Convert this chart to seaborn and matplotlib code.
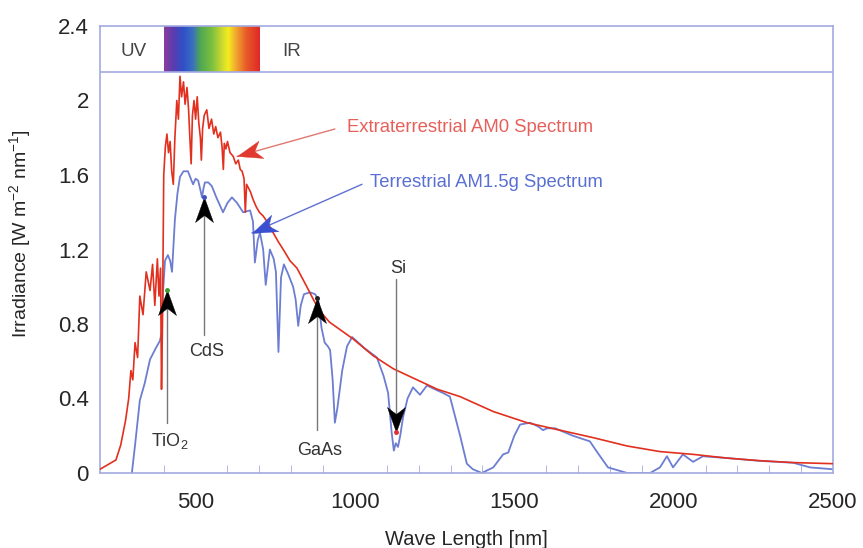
import numpy as np
import pandas as pd
import matplotlib
matplotlib.use("Agg")
import matplotlib.pyplot as plt
import seaborn as sns
from matplotlib.colors import LinearSegmentedColormap

# ---------------- data ----------------
am0_wl = [200, 240, 250, 265, 280, 290, 297, 303, 310, 318, 325, 335, 345, 357, 365, 372,
          380, 385, 390, 393, 396, 400, 405, 410, 415, 420, 425, 430, 435, 441, 446, 451,
          456, 462, 467, 473, 478, 482, 486, 490, 495, 500, 505, 510, 515, 518, 522, 527,
          535, 542, 550, 557, 563, 570, 578, 583, 587, 590, 595, 600, 608, 618, 626, 634,
          640, 646, 652, 656, 660, 666, 672, 680, 690, 700, 712, 724, 740, 760, 775, 796,
          818, 849, 870, 890, 920, 953, 994, 1057, 1120, 1195, 1258, 1330, 1434, 1540,
          1643, 1747, 1854, 1957, 2061, 2168, 2271, 2375, 2500]
am0_val = [0.02, 0.06, 0.07, 0.15, 0.28, 0.40, 0.55, 0.50, 0.70, 0.62, 0.95, 0.85, 1.08, 0.98,
           1.12, 0.90, 1.15, 0.95, 1.10, 0.45, 0.80, 1.60, 1.75, 1.82, 1.72, 1.78, 1.62, 1.55,
           1.80, 2.00, 1.90, 2.13, 2.02, 2.10, 1.98, 2.07, 1.95, 1.80, 1.66, 1.92, 2.00, 1.90,
           2.02, 1.88, 1.80, 1.68, 1.85, 1.92, 1.95, 1.85, 1.90, 1.82, 1.86, 1.80, 1.83, 1.75,
           1.63, 1.77, 1.74, 1.78, 1.72, 1.70, 1.66, 1.68, 1.63, 1.62, 1.58, 1.40, 1.55, 1.53,
           1.51, 1.47, 1.43, 1.40, 1.38, 1.35, 1.30, 1.24, 1.20, 1.14, 1.10, 1.00, 0.93, 0.87,
           0.81, 0.77, 0.72, 0.63, 0.56, 0.50, 0.45, 0.41, 0.33, 0.27, 0.23, 0.19, 0.145,
           0.115, 0.10, 0.08, 0.066, 0.056, 0.05]

am15_wl = [300, 310, 325, 340, 357, 375, 388, 393, 398, 404, 413, 420, 426, 435, 443, 451,
           462, 476, 485, 492, 500, 508, 515, 520, 525, 529, 540, 551, 565, 586, 600, 614,
           630, 649, 671, 680, 686, 695, 702, 712, 720, 733, 745, 752, 760, 768, 777, 790,
           806, 814, 822, 830, 840, 859, 875, 885, 895, 905, 915, 922, 930, 937, 945, 960,
           975, 991, 1030, 1069, 1090, 1104, 1115, 1122, 1128, 1135, 1142, 1151, 1165, 1182,
           1204, 1226, 1250, 1276, 1298, 1330, 1351, 1370, 1398, 1434, 1465, 1481, 1500,
           1518, 1549, 1575, 1590, 1603, 1628, 1684, 1737, 1765, 1794, 1854, 1926, 1957,
           1979, 1998, 2029, 2061, 2092, 2168, 2271, 2375, 2428, 2500]
am15_val = [0.0, 0.15, 0.39, 0.48, 0.61, 0.67, 0.71, 0.75, 0.98, 1.14, 1.17, 1.14, 1.08, 1.36,
            1.50, 1.59, 1.62, 1.62, 1.58, 1.55, 1.58, 1.57, 1.52, 1.48, 1.53, 1.56, 1.56, 1.54,
            1.48, 1.40, 1.45, 1.48, 1.45, 1.40, 1.41, 1.35, 1.13, 1.25, 1.29, 1.20, 1.01, 1.20,
            1.15, 1.08, 0.65, 1.05, 1.12, 1.07, 1.00, 0.93, 0.79, 0.90, 0.96, 0.97, 0.96, 0.93,
            0.78, 0.70, 0.68, 0.66, 0.50, 0.27, 0.35, 0.55, 0.68, 0.73, 0.67, 0.62, 0.52, 0.43,
            0.22, 0.12, 0.16, 0.14, 0.20, 0.30, 0.40, 0.46, 0.42, 0.47, 0.45, 0.43, 0.41, 0.20,
            0.05, 0.02, 0.0, 0.03, 0.10, 0.11, 0.20, 0.26, 0.27, 0.25, 0.23, 0.24, 0.24, 0.20,
            0.17, 0.10, 0.03, 0.0, 0.0, 0.03, 0.09, 0.03, 0.10, 0.06, 0.09, 0.08, 0.065, 0.055,
            0.03, 0.02]

# semiconductor band-gap markers
mat_names = ["TiO$_2$", "CdS", "GaAs", "Si"]
mat_wl = [410, 526, 881, 1129]
mat_tip = [0.98, 1.48, 0.94, 0.22]
mat_tail = [0.27, 0.74, 0.23, 1.04]
mat_label_y = [0.17, 0.65, 0.12, 1.10]
mat_dot_colors = ["#3a9a30", "#4050c0", "#202020", "#e03030"]

x_ticks = [500, 1000, 1500, 2000, 2500]
y_ticks = [0, 0.4, 0.8, 1.2, 1.6, 2.0, 2.4]
y_tick_labels = ["0", "0.4", "0.8", "1.2", "1.6", "2", "2.4"]

# ---------------- style ----------------
sns.set_style("white")
plt.rcParams["font.family"] = ["Liberation Sans", "DejaVu Sans"]
plt.rcParams["mathtext.fontset"] = "custom"
plt.rcParams["mathtext.rm"] = "Liberation Sans"
plt.rcParams["mathtext.it"] = "Liberation Sans:italic"
plt.rcParams["mathtext.bf"] = "Liberation Sans:bold"
plt.rcParams["mathtext.default"] = "regular"

spine_c = "#a3aae0"
red_c = "#e2301f"
blue_c = "#6c7dd2"

fig = plt.figure(figsize=(8.63, 5.48), dpi=100)
ax = fig.add_axes([100 / 863, 1 - 473 / 548, 733 / 863, 447 / 548])

df0 = pd.DataFrame({"wl": am0_wl, "irr": am0_val})
df1 = pd.DataFrame({"wl": am15_wl, "irr": am15_val})
sns.lineplot(data=df0, x="wl", y="irr", ax=ax, color=red_c, lw=1.2, zorder=3)
sns.lineplot(data=df1, x="wl", y="irr", ax=ax, color=blue_c, lw=1.3, zorder=2)

ax.set_xlim(200, 2500)
ax.set_ylim(0, 2.4)

# top band: UV / visible / IR
band_lo = 2.155
ax.axhline(band_lo, color=spine_c, lw=1.2, zorder=4)
rainbow = LinearSegmentedColormap.from_list(
    "rb", [(0.0, "#8c3c9c"), (0.1, "#5a3cb0"), (0.2, "#2f50c8"), (0.3, "#3a70c0"),
           (0.38, "#50a850"), (0.5, "#7cc040"), (0.6, "#c8d830"), (0.67, "#f4ec20"),
           (0.76, "#f0a030"), (0.86, "#e85a28"), (1.0, "#e02828")])
ax.imshow(np.linspace(0, 1, 256)[None, :], cmap=rainbow, aspect="auto",
          extent=[400, 700, band_lo, 2.4], zorder=1, interpolation="bilinear")
ax.text(305, 2.265, "UV", ha="center", va="center", fontsize=13.5, color="#444444")
ax.text(800, 2.265, "IR", ha="center", va="center", fontsize=13.5, color="#444444")


def stealth_head(x, y, angle_deg, color, ms):
    """Concave arrowhead with its tip at (x, y), pointing along angle_deg (display)."""
    base = np.array([[0, 0], [-1.0, 0.36], [-0.72, 0], [-1.0, -0.36], [0, 0]])
    a = np.deg2rad(angle_deg)
    rot = np.array([[np.cos(a), -np.sin(a)], [np.sin(a), np.cos(a)]])
    v = base @ rot.T
    ax.plot([x], [y], marker=v, ms=ms, color=color, mec=color, mew=0.3,
            zorder=8, clip_on=False)


def disp_angle(p_from, p_to):
    a = ax.transData.transform(p_from)
    b = ax.transData.transform(p_to)
    return np.degrees(np.arctan2(b[1] - a[1], b[0] - a[0]))


# spectrum annotations
spec_texts = ["Extraterrestrial AM0 Spectrum", "Terrestrial AM1.5g Spectrum"]
spec_text_xy = [(975, 1.857), (1047, 1.56)]
spec_line_start = [(937, 1.847), (1022, 1.55)]
spec_tip = [(630, 1.70), (677, 1.29)]
spec_txt_c = ["#e6605a", "#5a6fd2"]
spec_line_c = ["#e07870", "#6070d0"]
spec_head_c = ["#e03a30", "#3a50d0"]
for t, txy, ls, tip, tc, lc, hc in zip(spec_texts, spec_text_xy, spec_line_start, spec_tip,
                                        spec_txt_c, spec_line_c, spec_head_c):
    ax.text(txy[0], txy[1], t, fontsize=13.3, color=tc, va="center", ha="left")
    ax.plot([ls[0], tip[0]], [ls[1], tip[1]], color=lc, lw=1.0, zorder=7)
    stealth_head(tip[0], tip[1], disp_angle(ls, tip), hc, 38)

# band-gap markers
for name, wl, tip, tail, ly, dc in zip(mat_names, mat_wl, mat_tip, mat_tail,
                                       mat_label_y, mat_dot_colors):
    ax.plot([wl, wl], [tail, tip], color="#777777", lw=1.0, zorder=5)
    ang = 90 if tail < tip else -90
    stealth_head(wl, tip, ang, "black", 36)
    ax.plot([wl], [tip], "o", ms=2.5, color=dc, zorder=9)
    ax.text(wl + 8, ly, name, ha="center", va="center", fontsize=13, color="#333333")

# axes styling
for s in ax.spines.values():
    s.set_color(spine_c)
    s.set_linewidth(1.2)
ax.set_xticks(x_ticks)
ax.set_xticks(np.arange(300, 2500, 100), minor=True)
ax.set_yticks(y_ticks)
ax.set_yticklabels(y_tick_labels)
ax.tick_params(axis="x", which="major", direction="in", length=9, color=spine_c,
               labelsize=16, pad=14, top=False)
ax.tick_params(axis="x", which="minor", direction="in", length=6, color=spine_c,
               bottom=True, top=False)
ax.tick_params(axis="y", which="major", direction="in", length=11, color=spine_c,
               labelsize=16, pad=8, right=False)
ax.set_xlabel("Wave Length [nm]", fontsize=14.5, labelpad=12)
ax.set_ylabel("Irradiance [W m$^{-2}$ nm$^{-1}$]", fontsize=14)
ax.yaxis.set_label_coords(-0.092, 0.535)

fig.savefig("out.png", dpi=100)
